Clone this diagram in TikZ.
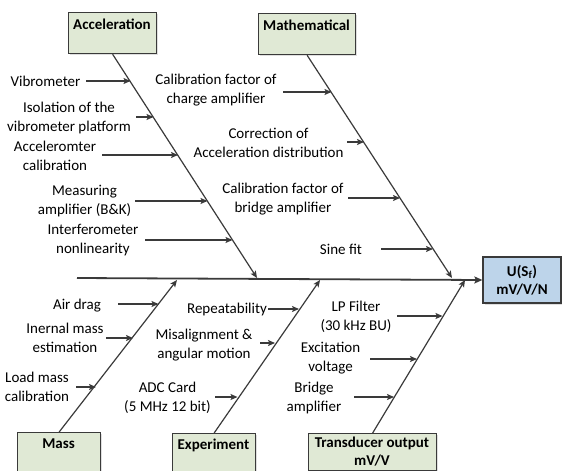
\documentclass[tikz,border=0pt]{standalone}
\usepackage{fontspec}
\setmainfont{Carlito}
\usetikzlibrary{arrows.meta,shadows}
\definecolor{boxgreen}{HTML}{E0E9D5}
\definecolor{boxblue}{HTML}{BDD4EA}
\definecolor{ink}{HTML}{3A3A3A}
\begin{document}
\begin{tikzpicture}[x=1pt,y=-1pt,
  txt/.style={font=\fontsize{15}{19}\selectfont, align=center, inner sep=0pt, text=black},
  hd/.style={font=\fontsize{15}{18}\selectfont\bfseries, align=center, inner sep=0pt, text=black},
  catbox/.style={draw=ink, line width=1.3pt, fill=boxgreen, inner sep=0pt, anchor=north west,
    drop shadow={shadow xshift=1.5pt, shadow yshift=-1.5pt, opacity=0.25}},
  effbox/.style={draw=ink, line width=1.3pt, fill=boxblue, inner sep=0pt,
    drop shadow={shadow xshift=1.5pt, shadow yshift=-1.5pt, opacity=0.25}},
  bone/.style={draw=ink, line width=1.2pt, -{Stealth[length=7pt,width=6pt,inset=1.5pt]}},
  spine/.style={draw=ink, line width=1.8pt, -{Stealth[length=8pt,width=7pt,inset=1.5pt]}},
  cause/.style={draw=ink, line width=1.5pt, -{Stealth[length=7pt,width=6pt,inset=1.5pt]}}
]
\useasboundingbox (0,0) rectangle (562,471);
\clip (0,0) rectangle (562,471);

% category boxes
\node[catbox, minimum width=88pt, minimum height=41pt] (acc) at (68,12) {};
\node[hd] (acch) at (112,24) {Acceleration};
\node[catbox, minimum width=97pt, minimum height=41pt] (math) at (258,13) {};
\node[hd] (mathh) at (306.5,25) {Mathematical};
\node[catbox, minimum width=83pt, minimum height=50pt] (mass) at (17,432) {};
\node[hd] (massh) at (58.5,444) {Mass};
\node[catbox, minimum width=83pt, minimum height=50pt] (exp) at (172,433) {};
\node[hd] (exph) at (213.5,445) {Experiment};
\node[catbox, minimum width=128pt, minimum height=37pt] (trans) at (308,433) {};
\node[hd] (transh) at (372,452) {Transducer output\\mV/V};

% effect box
\node[effbox, minimum width=78pt, minimum height=46pt, hd] (eff) at (522,280) {U(S\textsubscript{f})\\mV/V/N};

% spine
\coordinate (spS) at (77,278);
\draw[spine] (spS) -- (eff.west);

% bones
\coordinate (accT) at (257,278);
\coordinate (mathT) at (452,278);
\coordinate (massT) at (177,280);
\coordinate (expT) at (320,280);
\coordinate (transT) at (465,280);
\draw[bone] (acc.south) -- (accT);
\draw[bone] (math.south) -- (mathT);
\draw[bone] (mass.north) -- (massT);
\draw[bone] (exp.north) -- (expT);
\draw[bone] (trans.north) -- (transT);

% causes: Acceleration
\node[txt] (c1) at (45.5,81) {Vibrometer};
\coordinate (c1s) at (86,81); \coordinate (c1e) at (130.5,81);
\draw[cause] (c1s) -- (c1e);
\node[txt] (c2) at (69,117.5) {Isolation of the\\vibrometer platform};
\coordinate (c2s) at (136,117); \coordinate (c2e) at (153.5,117);
\draw[cause] (c2s) -- (c2e);
\node[txt] (c3) at (55,156) {Acceleromter\\calibration};
\coordinate (c3s) at (102,155); \coordinate (c3e) at (178,155);
\draw[cause] (c3s) -- (c3e);
\node[txt] (c4) at (84.5,201.5) {Measuring\\amplifier (B\&K)};
\coordinate (c4s) at (135,201); \coordinate (c4e) at (207.5,201);
\draw[cause] (c4s) -- (c4e);
\node[txt] (c5) at (93,240) {Interferometer\\nonlinearity};
\coordinate (c5s) at (145,240); \coordinate (c5e) at (232.5,240);
\draw[cause] (c5s) -- (c5e);

% causes: Mathematical
\node[txt] (c6) at (216,90.5) {Calibration factor of\\charge amplifier};
\coordinate (c6s) at (283,92); \coordinate (c6e) at (331.5,92);
\draw[cause] (c6s) -- (c6e);
\node[txt] (c7) at (268.5,142.5) {Correction of\\Acceleration distribution};
\coordinate (c7s) at (347,142); \coordinate (c7e) at (364,142);
\draw[cause] (c7s) -- (c7e);
\node[txt] (c8) at (283,199) {Calibration factor of\\bridge amplifier};
\coordinate (c8s) at (348,198); \coordinate (c8e) at (400,198);
\draw[cause] (c8s) -- (c8e);
\node[txt] (c9) at (341,249) {Sine fit};
\coordinate (c9s) at (381,249); \coordinate (c9e) at (433,249);
\draw[cause] (c9s) -- (c9e);

% causes: Mass
\node[txt] (c10) at (77,306) {Air drag};
\coordinate (c10s) at (118,304); \coordinate (c10e) at (158.5,304);
\draw[cause] (c10s) -- (c10e);
\node[txt] (c11) at (65,338) {Inernal mass\\estimation};
\coordinate (c11s) at (106,338); \coordinate (c11e) at (133,338);
\draw[cause] (c11s) -- (c11e);
\node[txt] (c12) at (37,387) {Load mass\\calibration};
\coordinate (c12s) at (76,387); \coordinate (c12e) at (96,387);
\draw[cause] (c12s) -- (c12e);

% causes: Experiment
\node[txt] (c13) at (227,309) {Repeatability};
\coordinate (c13s) at (268,309); \coordinate (c13e) at (299,309);
\draw[cause] (c13s) -- (c13e);
\node[txt] (c14) at (204,345) {Misalignment \&\\angular motion};
\coordinate (c14s) at (260,343); \coordinate (c14e) at (275,343);
\draw[cause] (c14s) -- (c14e);
\node[txt] (c15) at (167.5,398) {ADC Card\\(5 MHz 12 bit)};
\coordinate (c15s) at (215,397); \coordinate (c15e) at (237.5,397);
\draw[cause] (c15s) -- (c15e);

% causes: Transducer output
\node[txt] (c16) at (356,317) {LP Filter\\(30 kHz BU)};
\coordinate (c16s) at (397,316); \coordinate (c16e) at (442.5,316);
\draw[cause] (c16s) -- (c16e);
\node[txt] (c17) at (330.5,358.5) {Excitation\\voltage};
\coordinate (c17s) at (370,359); \coordinate (c17e) at (417,359);
\draw[cause] (c17s) -- (c17e);
\node[txt] (c18) at (314,398) {Bridge\\amplifier};
\coordinate (c18s) at (354,397); \coordinate (c18e) at (394,397);
\draw[cause] (c18s) -- (c18e);
\end{tikzpicture}
\end{document}
